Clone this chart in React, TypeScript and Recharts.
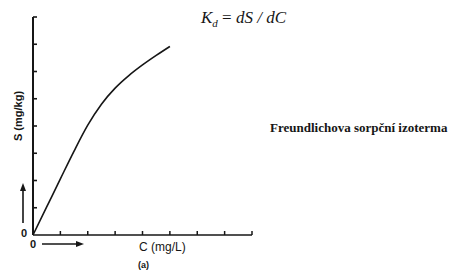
import { Line, LineChart, XAxis, YAxis } from "recharts";

// concentration C (axis tick units) and sorbed amount S
const cValues = [0, 0.5, 1, 1.5, 2, 2.5, 3, 3.5, 4, 4.5, 5];
const sValues = [0, 1.03, 2.06, 3.08, 4.03, 4.8, 5.39, 5.85, 6.24, 6.59, 6.92];
const axisTicks = [0, 1, 2, 3, 4, 5, 6, 7, 8];

const rows = cValues.map((c, i) => ({ c, s: sValues[i] }));

const ink = "#161616";

function XTick(props: any) {
  const { x, y, payload } = props;
  if (payload.value === 0) {
    return (
      <text x={x} y={y + 13} textAnchor="middle" fontSize={11} fontWeight={700} fill={ink} fontFamily="Liberation Sans">
        0
      </text>
    );
  }
  return <line x1={x} y1={y} x2={x} y2={y - 4} stroke={ink} strokeWidth={1.5} />;
}

function YTick(props: any) {
  const { x, y, payload } = props;
  if (payload.value === 0) {
    return (
      <text x={x - 9} y={y + 2} textAnchor="middle" fontSize={11} fontWeight={700} fill={ink} fontFamily="Liberation Sans">
        0
      </text>
    );
  }
  return <line x1={x} y1={y} x2={x + 4} y2={y} stroke={ink} strokeWidth={1.6} />;
}

export default function App() {
  return (
    <div style={{ position: "absolute", left: 0, top: 0, width: 458, height: 271, background: "#fff" }}>
      <LineChart width={458} height={271} data={rows} margin={{ top: 17, right: 206, left: 0, bottom: 26 }}>
        <XAxis
          dataKey="c"
          type="number"
          domain={[0, 8]}
          ticks={axisTicks}
          height={10}
          tickSize={0}
          tickMargin={0}
          tickLine={false}
          tick={<XTick />}
          axisLine={{ stroke: ink, strokeWidth: 1.6 }}
        />
        <YAxis
          type="number"
          domain={[0, 8]}
          ticks={axisTicks}
          width={33}
          tickSize={0}
          tickMargin={0}
          tickLine={false}
          tick={<YTick />}
          axisLine={{ stroke: ink, strokeWidth: 2 }}
        />
        <Line
          type="monotone"
          dataKey="s"
          stroke={ink}
          strokeWidth={1.6}
          dot={false}
          isAnimationActive={false}
        />
      </LineChart>

      <svg width={458} height={271} style={{ position: "absolute", left: 0, top: 0, pointerEvents: "none" }}>
        <line x1={23} y1={223} x2={23} y2={188} stroke={ink} strokeWidth={1.6} />
        <polygon points="23,183 20,191 26,191" fill={ink} />
        <line x1={42} y1={244} x2={78} y2={244} stroke={ink} strokeWidth={1.6} />
        <polygon points="84,244 76,241 76,247" fill={ink} />
      </svg>

      <div
        style={{
          position: "absolute",
          left: 18,
          top: 116,
          transform: "translate(-50%, -50%) rotate(-90deg)",
          whiteSpace: "nowrap",
          fontFamily: "Liberation Sans",
          fontWeight: 700,
          fontSize: 11,
          color: ink,
        }}
      >
        S (mg/kg)
      </div>
      <div
        style={{
          position: "absolute",
          left: 139,
          top: 240,
          whiteSpace: "nowrap",
          fontFamily: "Liberation Sans",
          fontSize: 12,
          color: ink,
        }}
      >
        C (mg/L)
      </div>
      <div
        style={{
          position: "absolute",
          left: 138,
          top: 260,
          fontFamily: "Liberation Sans",
          fontSize: 9,
          fontWeight: 700,
          color: ink,
        }}
      >
        (a)
      </div>
      <div
        style={{
          position: "absolute",
          left: 201,
          top: 8,
          whiteSpace: "nowrap",
          fontFamily: "Liberation Serif",
          fontStyle: "italic",
          fontSize: 17,
          color: ink,
        }}
      >
        K<sub style={{ fontSize: 11 }}>d</sub> <span style={{ fontStyle: "normal" }}>=</span> dS / dC
      </div>
      <div
        style={{
          position: "absolute",
          left: 270,
          top: 120,
          whiteSpace: "nowrap",
          fontFamily: "Liberation Serif",
          fontWeight: 700,
          fontSize: 13,
          color: ink,
        }}
      >
        Freundlichova sorpční izoterma
      </div>
    </div>
  );
}
